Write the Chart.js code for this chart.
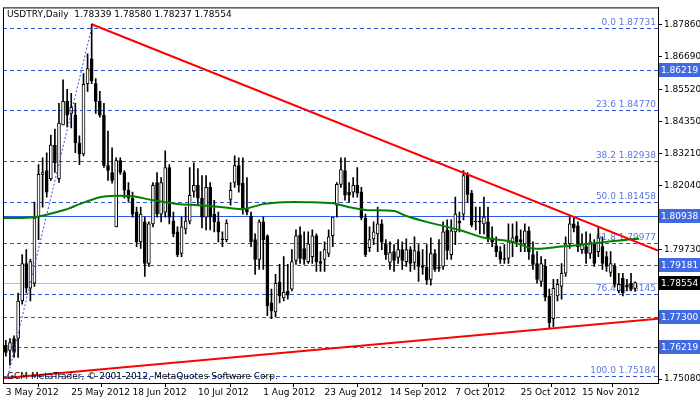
<!DOCTYPE html>
<html><head><meta charset="utf-8">
<script src="https://cdn.jsdelivr.net/npm/chart.js@4"></script>
<style>html,body{margin:0;padding:0;background:#fff}</style>
</head><body>
<canvas id="c" width="700" height="402"></canvas>
<script>
const opens=[1.7629,1.7611,1.7654,1.7654,1.7789,1.7924,1.7835,1.7853,1.8091,1.8245,1.8259,1.8230,1.8351,1.8230,1.8423,1.8508,1.8465,1.8458,1.8359,1.8319,1.8572,1.8661,1.8572,1.8508,1.8458,1.8277,1.8252,1.8056,1.8295,1.8252,1.8188,1.8159,1.8109,1.8002,1.8074,1.7924,1.8067,1.8216,1.8102,1.8109,1.8270,1.8077,1.8038,1.7960,1.8049,1.8077,1.8184,1.8206,1.8159,1.8091,1.8198,1.8102,1.8074,1.8013,1.8010,1.8155,1.8216,1.8277,1.8213,1.8124,1.8095,1.8010,1.7939,1.8074,1.8024,1.7782,1.7750,1.7857,1.7800,1.7825,1.7832,1.7935,1.8027,1.7978,1.7931,1.7949,1.8024,1.7931,1.7939,1.7960,1.8024,1.8134,1.8209,1.8259,1.8181,1.8181,1.8206,1.8181,1.8088,1.7981,1.8013,1.8031,1.8067,1.7995,1.7928,1.7967,1.7946,1.7974,1.7931,1.7974,1.7928,1.7967,1.7917,1.7910,1.7867,1.7960,1.7910,1.7914,1.8045,1.7956,1.8038,1.8077,1.8102,1.8245,1.8177,1.8077,1.8077,1.8067,1.8074,1.8017,1.7988,1.7967,1.7942,1.7942,1.7999,1.8024,1.8010,1.7995,1.8042,1.7956,1.7924,1.7860,1.7914,1.7807,1.7725,1.7807,1.7842,1.7889,1.7995,1.8067,1.8060,1.7974,1.7985,1.7960,1.7995,1.7967,1.7985,1.7949,1.7892,1.7914,1.7825,1.7871,1.7846,1.7853,1.78339];
const highs=[1.7647,1.7654,1.7664,1.7818,1.7956,1.7974,1.7939,1.8145,1.8280,1.8305,1.8323,1.8387,1.8408,1.8501,1.8586,1.8551,1.8537,1.8501,1.8384,1.8608,1.8679,1.8786,1.8590,1.8544,1.8501,1.8401,1.8341,1.8305,1.8305,1.8259,1.8216,1.8181,1.8127,1.8127,1.8091,1.8074,1.8216,1.8252,1.8234,1.8330,1.8280,1.8109,1.8056,1.8091,1.8127,1.8270,1.8287,1.8266,1.8241,1.8241,1.8216,1.8152,1.8109,1.8038,1.8081,1.8216,1.8312,1.8305,1.8305,1.8234,1.8109,1.8031,1.8081,1.8091,1.8027,1.7832,1.7885,1.7921,1.7949,1.7921,1.7974,1.8045,1.8056,1.8038,1.8038,1.8045,1.8031,1.7967,1.8002,1.8045,1.8056,1.8216,1.8305,1.8305,1.8216,1.8234,1.8270,1.8198,1.8102,1.8056,1.8074,1.8127,1.8081,1.8010,1.8002,1.7992,1.8010,1.8002,1.8013,1.7985,1.8020,1.7992,1.7974,1.7992,1.8017,1.7974,1.8010,1.8074,1.8081,1.8081,1.8163,1.8109,1.8259,1.8252,1.8188,1.8127,1.8127,1.8163,1.8127,1.8056,1.8020,1.7985,1.7992,1.8067,1.8067,1.8074,1.8045,1.8067,1.8056,1.8002,1.7967,1.7949,1.7939,1.7832,1.7867,1.7867,1.7924,1.8020,1.8091,1.8088,1.8074,1.8031,1.8038,1.8031,1.8010,1.8056,1.8020,1.7967,1.7967,1.7924,1.7889,1.7889,1.7867,1.7889,1.78580];
const lows=[1.7590,1.7558,1.7586,1.7586,1.7778,1.7818,1.7789,1.7842,1.8010,1.8127,1.8163,1.8223,1.8252,1.8216,1.8423,1.8416,1.8412,1.8323,1.8280,1.8312,1.8544,1.8572,1.8465,1.8451,1.8270,1.8223,1.8213,1.8056,1.8245,1.8159,1.8145,1.8091,1.7985,1.7978,1.7878,1.7914,1.8056,1.8091,1.8074,1.8091,1.8067,1.8020,1.7949,1.7949,1.8031,1.8067,1.8163,1.8134,1.8052,1.8045,1.8045,1.8038,1.8002,1.7985,1.8002,1.8134,1.8198,1.8181,1.8102,1.8099,1.7985,1.7885,1.7903,1.7903,1.7736,1.7725,1.7732,1.7782,1.7789,1.7796,1.7825,1.7921,1.7924,1.7921,1.7924,1.7924,1.7896,1.7896,1.7896,1.7949,1.7985,1.8091,1.8198,1.8152,1.8145,1.8163,1.8163,1.8081,1.7949,1.7967,1.7992,1.7967,1.7974,1.7939,1.7903,1.7896,1.7924,1.7903,1.7914,1.7896,1.7903,1.7860,1.7885,1.7849,1.7846,1.7896,1.7896,1.7903,1.7939,1.7939,1.7992,1.8038,1.8081,1.8145,1.8056,1.8045,1.8031,1.8031,1.8002,1.7985,1.7949,1.7924,1.7924,1.7924,1.7949,1.7985,1.7967,1.7967,1.7939,1.7903,1.7853,1.7842,1.7789,1.7693,1.7697,1.7789,1.7796,1.7878,1.7978,1.8038,1.7967,1.7960,1.7924,1.7942,1.7914,1.7949,1.7903,1.7896,1.7878,1.7839,1.7818,1.7807,1.7825,1.7825,1.78237];
const closes=[1.7604,1.7639,1.7604,1.7789,1.7924,1.7835,1.7931,1.8088,1.8245,1.8252,1.8181,1.8351,1.8287,1.8430,1.8508,1.8458,1.8487,1.8359,1.8319,1.8569,1.8626,1.8583,1.8508,1.8458,1.8277,1.8259,1.8223,1.8295,1.8252,1.8188,1.8159,1.8102,1.8002,1.8102,1.7924,1.8067,1.8206,1.8102,1.8216,1.8270,1.8091,1.8031,1.7956,1.8056,1.8077,1.8170,1.8206,1.8159,1.8091,1.8198,1.8091,1.8074,1.8038,1.8010,1.8070,1.8188,1.8277,1.8206,1.8120,1.8109,1.8002,1.7939,1.8074,1.8010,1.7771,1.7753,1.7853,1.7807,1.7821,1.7810,1.7931,1.8024,1.7942,1.7939,1.7995,1.8024,1.7931,1.7924,1.7974,1.8020,1.8091,1.8209,1.8262,1.8170,1.8170,1.8206,1.8177,1.8088,1.7956,1.8010,1.8038,1.8067,1.8002,1.7956,1.7963,1.7935,1.7974,1.7935,1.7974,1.7924,1.7971,1.7914,1.7910,1.7864,1.7960,1.7903,1.7906,1.8038,1.7971,1.8042,1.8102,1.8070,1.8241,1.8173,1.8063,1.8074,1.8074,1.8091,1.8013,1.8002,1.7967,1.7939,1.7939,1.8002,1.8017,1.8002,1.8002,1.8042,1.7967,1.7921,1.7867,1.7924,1.7803,1.7711,1.7835,1.7849,1.7889,1.7995,1.8067,1.8052,1.7985,1.7995,1.7960,1.8002,1.7924,1.8017,1.7924,1.7914,1.7924,1.7849,1.7849,1.7818,1.7839,1.7832,1.78554];
const maX=[-0.7,7,15,18,23,27,31,36,42,47,53,58,63,68,74,80,84,88,95,98,103,111,117,124,129,136,141,147,152,155];
const maY=[1.8088,1.8091,1.8120,1.8138,1.8163,1.8168,1.8166,1.8152,1.8138,1.8134,1.8127,1.8120,1.8138,1.8145,1.8145,1.8141,1.8127,1.8117,1.8113,1.8095,1.8074,1.8045,1.8017,1.8002,1.7978,1.7985,1.7992,1.8002,1.8010,1.8013];
const upperTrend=[[21,1.8786],[159.6,1.7971]];
const lowerTrend=[[-0.7,1.7511],[159.6,1.7725]];
const fibDiag=[[0.5,1.7518],[21,1.8773]];
const fibLevels=[["0.0",1.87731],["23.6",1.84770],["38.2",1.82938],["50.0",1.81458],["61.8",1.79977],["76.4",1.78145],["100.0",1.75184]];
const dashedLevels=[1.86219,1.79181,1.77300,1.76219];
const solidLevel=1.80938;
const lastPrice=1.78554;
const yTicks=[1.87860,1.86690,1.85520,1.84350,1.83210,1.82040,1.79730,1.75080];
const boxLabels=[1.86219,1.80938,1.79181,1.77300,1.76219];
const dateTicks=[0,16,31,47,63,78,94,110,126,141];
const dateLabels=["3 May 2012","25 May 2012","18 Jun 2012","10 Jul 2012","1 Aug 2012","23 Aug 2012","14 Sep 2012","7 Oct 2012","25 Oct 2012","15 Nov 2012"];

const FONT="9px 'DejaVu Sans'";
const BLUE="#2f55d4";
const wick=closes.map((c,i)=>({x:i,y:[lows[i],highs[i]]}));
const body=closes.map((c,i)=>({x:i,y:[Math.min(opens[i],c),Math.max(opens[i],c)===Math.min(opens[i],c)?c+0.00003:Math.max(opens[i],c)]}));
const bodyColors=closes.map((c,i)=>c>opens[i]?'#ffffff':'#000000');
const pts=a=>a.map(p=>({x:p[0],y:p[1]}));

const deco={id:'deco',
 beforeDatasetsDraw(ch){
  const {ctx,chartArea:a,scales:{y}}=ch;
  ctx.save();ctx.lineWidth=1;
  ctx.setLineDash([4,3]);ctx.strokeStyle=BLUE;
  const allD=fibLevels.map(f=>f[1]).concat(dashedLevels);
  allD.forEach(v=>{const py=Math.round(y.getPixelForValue(v))+0.5;ctx.beginPath();ctx.moveTo(a.left,py);ctx.lineTo(a.right,py);ctx.stroke();});
  ctx.setLineDash([]);
  let py=Math.round(y.getPixelForValue(solidLevel))+0.5;
  ctx.strokeStyle='#2a5cf0';ctx.beginPath();ctx.moveTo(a.left,py);ctx.lineTo(a.right,py);ctx.stroke();
  py=Math.round(y.getPixelForValue(lastPrice))+0.5;
  ctx.strokeStyle='#c0c0c0';ctx.beginPath();ctx.moveTo(a.left,py);ctx.lineTo(a.right,py);ctx.stroke();
  ctx.font=FONT;ctx.fillStyle='#5a78e0';ctx.textAlign='right';ctx.textBaseline='bottom';
  fibLevels.forEach(f=>{const p=y.getPixelForValue(f[1]);ctx.fillText(f[0]+' '+f[1].toFixed(5),a.right-2,p-1);});
  ctx.restore();
 },
 afterDraw(ch){
  const {ctx,chartArea:a,scales:{y}}=ch;
  ctx.save();
  ctx.strokeStyle='#000';ctx.lineWidth=1;
  ctx.strokeRect(a.left+0.5,a.top+0.5,a.right-a.left,a.bottom-a.top);
  ctx.font=FONT;ctx.textBaseline='middle';ctx.textAlign='left';
  boxLabels.concat([lastPrice]).forEach(v=>{
   const p=Math.round(y.getPixelForValue(v));
   ctx.fillStyle=v===lastPrice?'#000':'#4169e1';
   ctx.fillRect(a.right+1,p-7,42,14);
   ctx.fillStyle='#fff';ctx.fillText(v.toFixed(5),a.right+3,p+0.5);
  });
  ctx.fillStyle='#000';ctx.textBaseline='top';
  ctx.fillText('USDTRY,Daily  1.78339 1.78580 1.78237 1.78554',a.left+4,a.top+3);
  ctx.textBaseline='bottom';
  ctx.fillText('GCM MetaTrader, © 2001-2012, MetaQuotes Software Corp.',a.left+4,a.bottom-2);
  ctx.restore();
 }};

new Chart(document.getElementById('c'),{
 data:{datasets:[
  {type:'line',data:pts(lowerTrend),borderColor:'#ff0000',borderWidth:2,pointRadius:0,order:1},
  {type:'line',data:pts(upperTrend),borderColor:'#ff0000',borderWidth:2,pointRadius:0,order:1},
  {type:'line',data:pts(fibDiag),borderColor:BLUE,borderWidth:1,borderDash:[2,2],pointRadius:0,order:1},
  {type:'line',data:maX.map((x,i)=>({x,y:maY[i]})),borderColor:'#008000',borderWidth:2,pointRadius:0,tension:0.3,order:2},
  {type:'bar',data:body,backgroundColor:bodyColors,borderColor:'#000',borderWidth:1,borderSkipped:false,barThickness:3,grouped:false,order:3},
  {type:'bar',data:wick,backgroundColor:'#000',borderWidth:0,barThickness:1,grouped:false,order:4}
 ]},
 options:{responsive:false,animation:false,
  layout:{padding:{top:0,left:3,right:0,bottom:0}},
  plugins:{legend:{display:false},tooltip:{enabled:false}},
  scales:{
   x:{type:'linear',min:-0.7,max:159.6,offset:false,
    afterBuildTicks:s=>{s.ticks=dateTicks.map(v=>({value:v}));},
    afterFit:s=>{s.height=19;},
    grid:{drawOnChartArea:false,color:'#000',tickLength:4},border:{color:'#000'},
    ticks:{align:'start',maxRotation:0,autoSkip:false,padding:0,color:'#000',font:{family:'DejaVu Sans',size:9},
     callback:v=>dateLabels[dateTicks.indexOf(v)]}},
   y:{position:'right',min:1.74937,max:1.88465,
    afterBuildTicks:s=>{s.ticks=yTicks.map(v=>({value:v}));},
    afterFit:s=>{s.width=42;},
    grid:{drawOnChartArea:false,color:'#000',tickLength:4},border:{color:'#000'},
    ticks:{autoSkip:false,padding:2,color:'#000',font:{family:'DejaVu Sans',size:9},callback:v=>v.toFixed(5)}}
  }},
 plugins:[deco]
});
</script></body></html>
